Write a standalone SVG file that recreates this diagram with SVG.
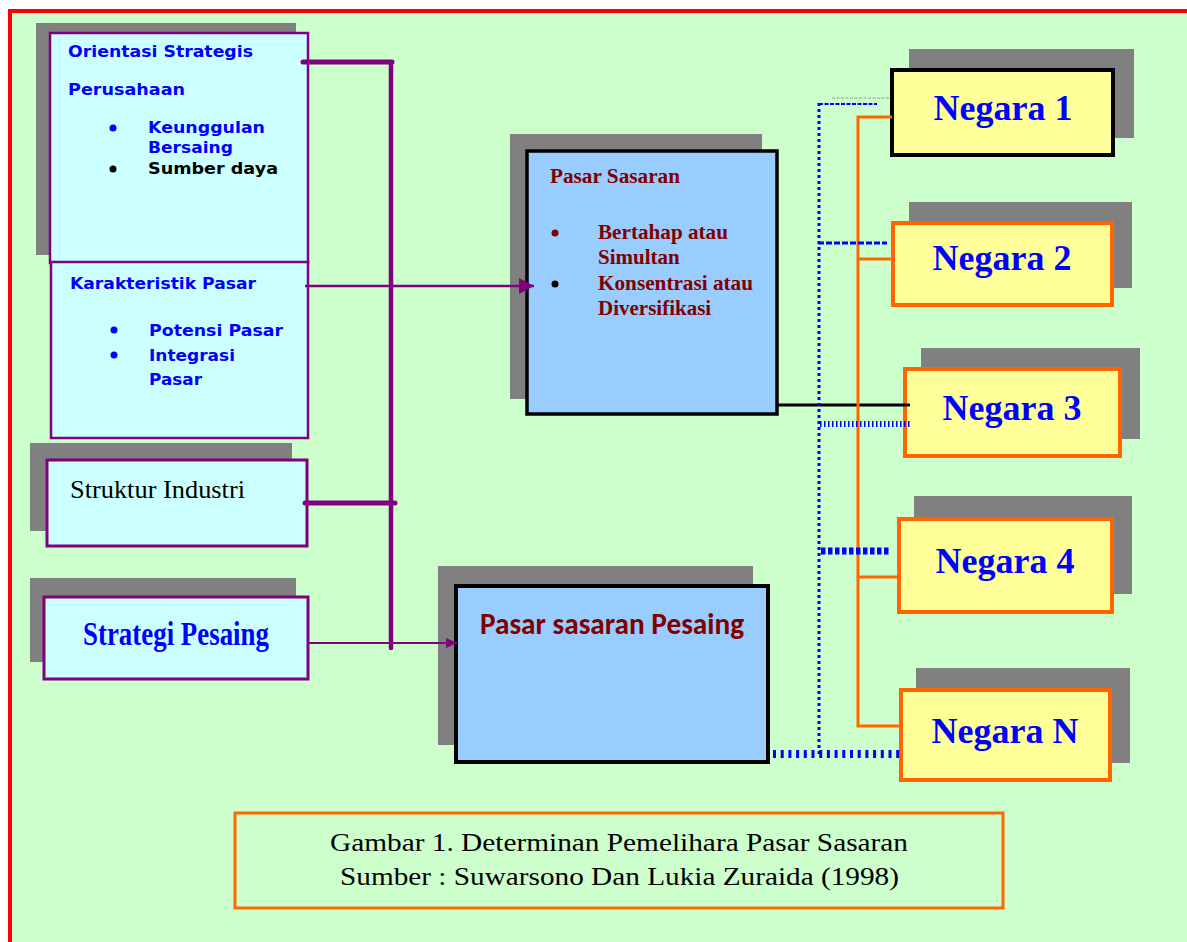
<svg xmlns="http://www.w3.org/2000/svg" width="1187" height="942" viewBox="0 0 1187 942">
<style>
.shadow{fill:#808080}
.lbox{fill:#CCFFFF;stroke:#800080;stroke-width:2.5}
.bbox{fill:#99CCFF;stroke:#000;stroke-width:3.5}
.nbox{fill:#FFFF99;stroke:#FF6600;stroke-width:4}
.vs{font-family:"DejaVu Sans","Verdana",sans-serif;font-weight:bold;font-size:16.5px;fill:#0000FF}
.tr{font-family:"Liberation Serif","Times New Roman",serif}
.neg{font-family:"Liberation Serif","Times New Roman",serif;font-weight:bold;font-size:36px;fill:#0000FF;text-anchor:middle}
.ps{font-family:"Liberation Serif","Times New Roman",serif;font-weight:bold;font-size:21px;fill:#800000}
.pur{stroke:#800080;fill:none}
.or{stroke:#FF6600;stroke-width:3;fill:none}
.bl{stroke:#0000FF;fill:none}
</style>
<defs>
<marker id="ah1" markerWidth="16" markerHeight="16" refX="15" refY="8" orient="auto" markerUnits="userSpaceOnUse">
<path d="M0,0 L15,8 L0,16 Z" fill="#800080"/>
</marker>
<marker id="ah2" markerWidth="12" markerHeight="12" refX="11" refY="5" orient="auto" markerUnits="userSpaceOnUse">
<path d="M0,0 L11,5 L0,10 Z" fill="#800080"/>
</marker>
</defs>
<rect x="0" y="0" width="1187" height="942" fill="#FFFFFF"/>
<rect x="10" y="11" width="1200" height="960" fill="#CCFFCC" stroke="#FF0000" stroke-width="4"/>

<g id="orientasi">
<rect class="shadow" x="36" y="23" width="260" height="232"/>
<rect class="lbox" x="50" y="33" width="258" height="230"/>
<text class="vs" x="68" y="57" textLength="185" lengthAdjust="spacingAndGlyphs">Orientasi Strategis</text>
<text class="vs" x="68" y="95" textLength="117" lengthAdjust="spacingAndGlyphs">Perusahaan</text>
<circle cx="113" cy="128" r="3.5" fill="#0000FF"/>
<text class="vs" x="148" y="133" textLength="117" lengthAdjust="spacingAndGlyphs">Keunggulan</text>
<text class="vs" x="148" y="153" textLength="85" lengthAdjust="spacingAndGlyphs">Bersaing</text>
<circle cx="113" cy="169" r="3.5" fill="#000"/>
<text class="vs" x="148" y="174" textLength="130" lengthAdjust="spacingAndGlyphs" style="fill:#000">Sumber daya</text>
</g>

<g id="karakteristik">
<rect class="lbox" x="51" y="262" width="257" height="176"/>
<text class="vs" x="70" y="289" textLength="186" lengthAdjust="spacingAndGlyphs">Karakteristik Pasar</text>
<circle cx="114" cy="330" r="3.5" fill="#0000FF"/>
<text class="vs" x="149" y="336" textLength="134" lengthAdjust="spacingAndGlyphs">Potensi Pasar</text>
<circle cx="114" cy="355" r="3.5" fill="#0000FF"/>
<text class="vs" x="149" y="361" textLength="86" lengthAdjust="spacingAndGlyphs">Integrasi</text>
<text class="vs" x="149" y="385" textLength="53" lengthAdjust="spacingAndGlyphs">Pasar</text>
</g>

<g id="struktur">
<rect class="shadow" x="30" y="443" width="262" height="88"/>
<rect class="lbox" x="47" y="460" width="260" height="86" style="stroke-width:3"/>
<text class="tr" x="70" y="498" font-size="26" fill="#000" textLength="175" lengthAdjust="spacingAndGlyphs">Struktur Industri</text>
</g>

<g id="strategi">
<rect class="shadow" x="30" y="578" width="266" height="84"/>
<rect class="lbox" x="44" y="597" width="264" height="82" style="stroke-width:3"/>
<text class="tr" x="83" y="645" font-size="34" font-weight="bold" fill="#0000FF" textLength="186" lengthAdjust="spacingAndGlyphs">Strategi Pesaing</text>
</g>

<g id="pasar-sasaran">
<rect class="shadow" x="510" y="134" width="252" height="265"/>
<rect class="bbox" x="527" y="151" width="250" height="263"/>
<text class="ps" x="550" y="183" textLength="130" lengthAdjust="spacingAndGlyphs">Pasar Sasaran</text>
<circle cx="555" cy="233" r="3.5" fill="#800000"/>
<text class="ps" x="598" y="239" textLength="130" lengthAdjust="spacingAndGlyphs">Bertahap atau</text>
<text class="ps" x="598" y="264">Simultan</text>
<circle cx="555" cy="284" r="3.5" fill="#000"/>
<text class="ps" x="598" y="290" textLength="155" lengthAdjust="spacingAndGlyphs">Konsentrasi atau</text>
<text class="ps" x="598" y="315">Diversifikasi</text>
</g>

<g id="pasar-sasaran-pesaing">
<rect class="shadow" x="438" y="566" width="315" height="179"/>
<rect class="bbox" x="456" y="586" width="312" height="176" style="stroke-width:4"/>
<text x="480" y="634" font-family="Carlito,'Open Sans',sans-serif" font-weight="bold" font-size="30" fill="#800000" textLength="264" lengthAdjust="spacingAndGlyphs">Pasar sasaran Pesaing</text>
</g>

<g id="negara-1">
<rect class="shadow" x="909" y="49" width="225" height="89"/>
<rect class="nbox" x="892" y="70" width="221" height="85" style="stroke:#000"/>
<text class="neg" x="1003" y="120">Negara 1</text>
</g>
<g id="negara-2">
<rect class="shadow" x="909" y="202" width="223" height="86"/>
<rect class="nbox" x="893" y="223" width="219" height="82"/>
<text class="neg" x="1002" y="270">Negara 2</text>
</g>
<g id="negara-3">
<rect class="shadow" x="921" y="348" width="219" height="91"/>
<rect class="nbox" x="905" y="369" width="215" height="87"/>
<text class="neg" x="1012" y="420">Negara 3</text>
</g>
<g id="negara-4">
<rect class="shadow" x="914" y="496" width="218" height="98"/>
<rect class="nbox" x="899" y="519" width="213" height="93"/>
<text class="neg" x="1005" y="573">Negara 4</text>
</g>
<g id="negara-n">
<rect class="shadow" x="916" y="668" width="214" height="95"/>
<rect class="nbox" x="901" y="690" width="209" height="90"/>
<text class="neg" x="1005" y="743">Negara N</text>
</g>

<g id="caption">
<rect x="235" y="813" width="768" height="95" fill="none" stroke="#FF6600" stroke-width="3"/>
<text class="tr" x="330" y="851" font-size="25" fill="#000" textLength="578" lengthAdjust="spacingAndGlyphs">Gambar 1. Determinan Pemelihara Pasar Sasaran</text>
<text class="tr" x="340" y="885" font-size="25" fill="#000" textLength="559" lengthAdjust="spacingAndGlyphs">Sumber : Suwarsono Dan Lukia Zuraida (1998)</text>
</g>

<g id="connectors">
<line class="pur" x1="303" y1="62" x2="392" y2="62" stroke-width="5" stroke-linecap="round"/>
<line class="pur" x1="305" y1="503" x2="395" y2="503" stroke-width="5" stroke-linecap="round"/>
<line class="pur" x1="391" y1="62" x2="391" y2="648" stroke-width="4.5" stroke-linecap="round"/>
<line class="pur" x1="305" y1="286" x2="534" y2="286" stroke-width="2.5" marker-end="url(#ah1)"/>
<line class="pur" x1="308" y1="643" x2="457" y2="643" stroke-width="1.8" marker-end="url(#ah2)"/>
<line x1="777" y1="405" x2="910" y2="405" stroke="#000" stroke-width="3"/>
<path class="or" d="M892,117 H858 V726 H901"/>
<line class="or" x1="858" y1="259" x2="893" y2="259"/>
<line class="or" x1="858" y1="577" x2="899" y2="577"/>
<line x1="832" y1="98" x2="890" y2="98" stroke="#999999" stroke-width="1.2" stroke-dasharray="3 1.5"/>
<line class="bl" x1="819" y1="104" x2="877" y2="104" stroke-width="1.8" stroke-dasharray="4 1.5"/>
<line class="bl" x1="819" y1="103" x2="819" y2="754" stroke-width="3" stroke-dasharray="3 3"/>
<line class="bl" x1="818" y1="243" x2="887" y2="243" stroke-width="3" stroke-dasharray="6 2"/>
<line class="bl" x1="820" y1="424" x2="911" y2="424" stroke-width="6" stroke-dasharray="1.5 2.5"/>
<line class="bl" x1="821" y1="551" x2="891" y2="551" stroke-width="7" stroke-dasharray="4.5 2.5"/>
<line class="bl" x1="773" y1="754" x2="900" y2="754" stroke-width="8" stroke-dasharray="3 4.7"/>
</g>
</svg>
